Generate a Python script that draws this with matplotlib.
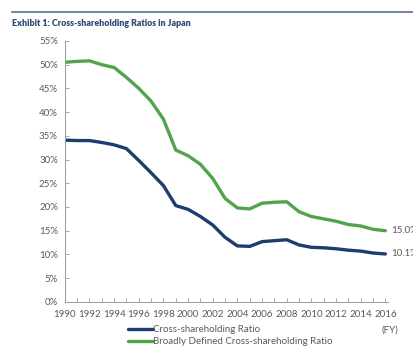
import numpy as np
import matplotlib.pyplot as plt
from matplotlib.ticker import MultipleLocator, FuncFormatter

plt.rcParams['font.family'] = ['Lato', 'DejaVu Sans']

years = list(range(1990, 2017))
cross = [34.1, 34.0, 34.0, 33.6, 33.1, 32.3, 29.8, 27.2, 24.5, 20.3, 19.5, 18.0, 16.2, 13.6,
         11.8, 11.7, 12.7, 12.9, 13.1, 12.0, 11.5, 11.4, 11.2, 10.9, 10.7, 10.3, 10.1]
broad = [50.5, 50.7, 50.8, 50.0, 49.4, 47.3, 45.0, 42.3, 38.5, 32.0, 30.8, 29.0, 26.0, 21.8,
         19.8, 19.6, 20.8, 21.0, 21.1, 19.0, 18.0, 17.5, 17.0, 16.3, 16.0, 15.3, 15.0]
labels = ['Cross-shareholding Ratio', 'Broadly Defined Cross-shareholding Ratio']

blue = '#1c3d6e'
green = '#52a44c'
txt = '#5a5a5a'

fig = plt.figure(figsize=(4.13, 3.56), dpi=100)
ax = fig.add_axes([0.157, 0.152, 0.782, 0.733])

l1, = ax.plot(years, cross, color=blue, lw=2.4, solid_capstyle='round', solid_joinstyle='round')
l2, = ax.plot(years, broad, color=green, lw=2.4, solid_capstyle='round', solid_joinstyle='round')

ax.set_xlim(1990, 2016.2)
ax.set_ylim(0, 55)
ax.yaxis.set_major_locator(MultipleLocator(5))
ax.yaxis.set_major_formatter(FuncFormatter(lambda v, p: f'{v:.0f}%'))
ax.set_xticks(years[::2])
ax.xaxis.set_minor_locator(MultipleLocator(1))
ax.tick_params(axis='both', which='both', direction='in', colors='#999999',
               labelcolor=txt, labelsize=7, length=3, width=0.6)
ax.tick_params(axis='x', pad=6)
ax.tick_params(axis='y', pad=5)
for s in ['top', 'right']:
    ax.spines[s].set_visible(False)
for s in ['left', 'bottom']:
    ax.spines[s].set_color('#999999')
    ax.spines[s].set_linewidth(0.7)

# end labels (cut at the right edge as in the source)
ax.annotate(f'{broad[-1]:.1f}%', (years[-1], broad[-1]), xytext=(4, 0),
            textcoords='offset points', va='center', fontsize=7, color=txt,
            annotation_clip=False)
ax.annotate(f'{cross[-1]:.1f}%', (years[-1], cross[-1]), xytext=(4, 0),
            textcoords='offset points', va='center', fontsize=7, color=txt,
            annotation_clip=False)

fig.text(0.945, 0.073, '(FY)', fontsize=7, color=txt, ha='center', va='center')

fig.legend([l1, l2], labels, loc='upper left', bbox_to_anchor=(0.30, 0.098),
           frameon=False, fontsize=7, handlelength=2.6, handletextpad=0.0,
           labelspacing=0.35, borderaxespad=0, labelcolor=txt)

# title with rule above
fig.add_artist(plt.Line2D([0.03, 1.0], [0.965, 0.965], color='#5a7090', lw=1.2))
fig.text(0.03, 0.948, 'Exhibit 1: Cross-shareholding Ratios in Japan', fontsize=6.4,
         fontweight='heavy', color='#2e4a74', ha='left', va='top')

fig.savefig('out.png', dpi=100)
